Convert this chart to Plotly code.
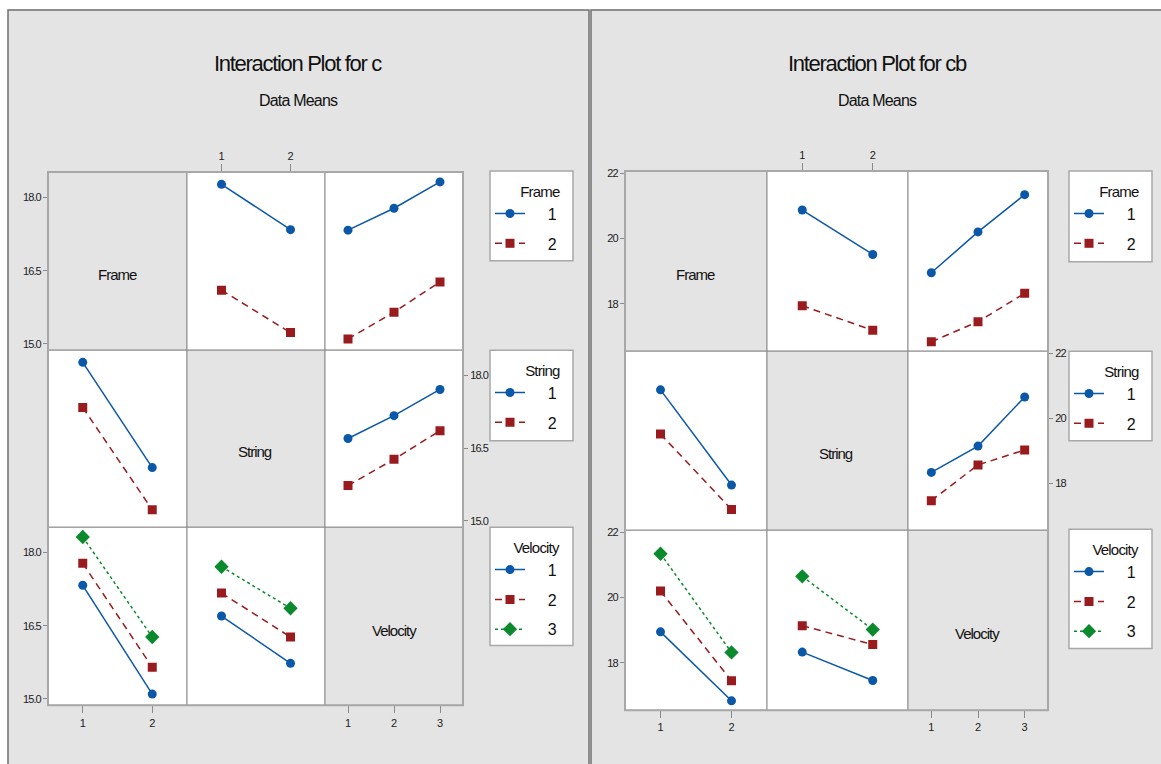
import plotly.graph_objects as go

W, H = 1161, 764

# ---------------- data ----------------
factor_names = ["Frame", "String", "Velocity"]
factor_levels = [[1, 2], [1, 2], [1, 2, 3]]

# Response c : two-way means
c_fs_frame1 = [18.27, 17.34]          # Frame 1 at String 1, 2
c_fs_frame2 = [16.10, 15.23]          # Frame 2 at String 1, 2
c_fv_frame1 = [17.33, 17.78, 18.32]   # Frame 1 at Velocity 1, 2, 3
c_fv_frame2 = [15.10, 15.65, 16.27]   # Frame 2 at Velocity 1, 2, 3
c_sv_string1 = [16.70, 17.17, 17.71]  # String 1 at Velocity 1, 2, 3
c_sv_string2 = [15.73, 16.27, 16.86]  # String 2 at Velocity 1, 2, 3

# Response cb : two-way means
cb_fs_frame1 = [20.87, 19.51]
cb_fs_frame2 = [17.94, 17.19]
cb_fv_frame1 = [18.95, 20.20, 21.34]
cb_fv_frame2 = [16.84, 17.45, 18.32]
cb_sv_string1 = [18.33, 19.14, 20.65]
cb_sv_string2 = [17.46, 18.56, 19.02]

c_yticks = [15.0, 16.5, 18.0]
c_yticktext = ["15.0", "16.5", "18.0"]
cb_yticks = [18, 20, 22]
cb_yticktext = ["18", "20", "22"]

titles = ["Interaction Plot for c", "Interaction Plot for cb"]
subtitle = "Data Means"

# ---------------- style ----------------
FONT = "Liberation Sans, Arial, sans-serif"
COLORS = ["#0B57A8", "#991B1E", "#0A8A2C"]
SYMBOLS = ["circle", "square", "diamond"]
DASHES = ["solid", "7px,5px", "3px,3px"]
MSIZE = [9, 9, 11]
PANEL_BG = "#E4E4E4"


def px(x):
    return x / W


def py(y):
    return 1 - y / H


def narrow(text, ls):
    return '<span style="letter-spacing:%spx">%s</span>' % (ls, text)


def transpose(rows):
    return [list(col) for col in zip(*rows)]


def tables(fs1, fs2, fv1, fv2, sv1, sv2):
    t = {}
    t[(0, 1)] = [fs1, fs2]
    t[(0, 2)] = [fv1, fv2]
    t[(1, 2)] = [sv1, sv2]
    t[(1, 0)] = transpose(t[(0, 1)])
    t[(2, 0)] = transpose(t[(0, 2)])
    t[(2, 1)] = transpose(t[(1, 2)])
    return t


panels = [
    dict(
        tab=tables(c_fs_frame1, c_fs_frame2, c_fv_frame1, c_fv_frame2, c_sv_string1, c_sv_string2),
        cols=[48, 187, 325, 463], rows=[169, 348, 526, 705],
        yrange=[14.87, 18.52], yticks=c_yticks, yticktext=c_yticktext,
        bg=[8, 589], center=298,
        legboxes=[(490, 573, 168, 258), (490, 573, 348, 439), (490, 573, 526, 645)],
        labelpos=[(117, 272), (255, 450), (394, 630)],
    ),
    dict(
        tab=tables(cb_fs_frame1, cb_fs_frame2, cb_fv_frame1, cb_fv_frame2, cb_sv_string1, cb_sv_string2),
        cols=[625, 767, 908, 1048], rows=[168, 349, 529, 710],
        yrange=[16.55, 22.06], yticks=cb_yticks, yticktext=cb_yticktext,
        bg=[591, 1161], center=877,
        legboxes=[(1069, 1152, 168, 259), (1069, 1152, 349, 439), (1069, 1152, 528, 648)],
        labelpos=[(695, 272), (836, 452), (977, 633)],
    ),
]

fig = go.Figure()
layout = dict(
    width=W, height=H,
    margin=dict(l=0, r=0, t=0, b=0),
    paper_bgcolor="white",
    plot_bgcolor="rgba(0,0,0,0)",
    showlegend=True,
    font=dict(family=FONT, color="#111"),
)
shapes = []
annotations = []

# panel backgrounds
for p, P in enumerate(panels):
    x0, x1 = P["bg"]
    shapes.append(dict(type="rect", xref="paper", yref="paper", layer="below",
                       x0=px(x0), x1=px(x1) + (0.01 if p == 1 else 0), y0=py(6), y1=-0.01,
                       fillcolor=PANEL_BG, line=dict(color="#6E6E6E", width=1.5)))

for p, P in enumerate(panels):
    cols, rows = P["cols"], P["rows"]
    # titles
    annotations.append(dict(text=narrow(titles[p], -1.3), x=px(P["center"]), y=py(60),
                            xref="paper", yref="paper", xanchor="center", yanchor="middle",
                            showarrow=False, font=dict(size=22, color="#111")))
    annotations.append(dict(text=narrow(subtitle, -0.8), x=px(P["center"]), y=py(97),
                            xref="paper", yref="paper", xanchor="center", yanchor="middle",
                            showarrow=False, font=dict(size=16, color="#111")))
    for r in range(3):
        lname = "legend" if (p == 0 and r == 0) else "legend%d" % (p * 3 + r + 1)
        legend_done = False
        for c in range(3):
            k = p * 9 + r * 3 + c + 1
            xs = "" if k == 1 else str(k)
            xa = "xaxis" + xs
            ya = "yaxis" + xs
            nx = len(factor_levels[c])
            show_x = (r == 0 and c == 1) or (r == 2 and c in (0, 2))
            show_y = (c == 0 and r in (0, 2)) or (r == 1 and c == 2)
            layout[xa] = dict(
                domain=[px(cols[c]), px(cols[c + 1])], anchor="y" + xs,
                range=[0.5, nx + 0.5], tickvals=factor_levels[c],
                ticktext=[str(v) for v in factor_levels[c]],
                showgrid=False, zeroline=False, showline=False,
                showticklabels=show_x, ticks="outside" if show_x else "",
                ticklen=7, tickcolor="#8A8A8A", tickwidth=1,
                side="top" if r == 0 else "bottom",
                tickfont=dict(size=11, color="#222"), fixedrange=True,
            )
            layout[ya] = dict(
                domain=[py(rows[r + 1]), py(rows[r])], anchor="x" + xs,
                range=P["yrange"], tickvals=P["yticks"],
                ticktext=[narrow(t, -0.9) for t in P["yticktext"]],
                showgrid=False, zeroline=False, showline=False,
                showticklabels=show_y, ticks="outside" if show_y else "",
                ticklen=4, tickcolor="#8A8A8A", tickwidth=1,
                side="right" if (r == 1 and c == 2) else "left",
                tickfont=dict(size=11, color="#222"), fixedrange=True,
            )
            # cell fill + border
            shapes.append(dict(type="rect", xref="paper", yref="paper", layer="below",
                               x0=px(cols[c]), x1=px(cols[c + 1]), y0=py(rows[r + 1]), y1=py(rows[r]),
                               fillcolor=PANEL_BG if r == c else "white",
                               line=dict(color="#8C8C8C", width=1)))
            if r == c:
                fig.add_trace(go.Scatter(x=[], y=[], xaxis="x" + xs, yaxis="y" + xs,
                                         showlegend=False, hoverinfo="skip"))
                lx, ly = P["labelpos"][r]
                annotations.append(dict(text=narrow(factor_names[r], -1.0), x=px(lx), y=py(ly),
                                        xref="paper", yref="paper", xanchor="center",
                                        yanchor="middle", showarrow=False,
                                        font=dict(size=15, color="#111")))
                continue
            series = P["tab"][(r, c)]
            for li, vals in enumerate(series):
                lev = factor_levels[r][li]
                fig.add_trace(go.Scatter(
                    x=factor_levels[c], y=vals, xaxis="x" + xs, yaxis="y" + xs,
                    mode="lines+markers",
                    line=dict(color=COLORS[li], width=1.5, dash=DASHES[li]),
                    marker=dict(color=COLORS[li], symbol=SYMBOLS[li], size=MSIZE[li]),
                    name="\u00a0" * 4 + str(lev),
                    legend=lname, legendgroup="p%dr%dl%d" % (p, r, li),
                    showlegend=not legend_done,
                ))
            legend_done = True
        bx0, bx1, by0, by1 = P["legboxes"][r]
        shapes.append(dict(type="rect", xref="paper", yref="paper", layer="above",
                           x0=px(bx0), x1=px(bx1), y0=py(by1), y1=py(by0),
                           fillcolor="white", line=dict(color="#A8A8A8", width=1.5)))
        layout[lname] = dict(
            x=px(bx0), y=py(by0 + 6), xanchor="left", yanchor="top",
            bgcolor="rgba(0,0,0,0)", borderwidth=0,
            font=dict(size=16, color="#111", family=FONT),
            title=dict(text=narrow(factor_names[r], -0.8), side="top right",
                       font=dict(size=15, color="#111")),
            itemwidth=30, tracegroupgap=6, itemclick=False, itemdoubleclick=False,
        )
    # outer grid border
    shapes.append(dict(type="rect", xref="paper", yref="paper", layer="above",
                       x0=px(cols[0]), x1=px(cols[3]), y0=py(rows[3]), y1=py(rows[0]),
                       line=dict(color="#A8A8A8", width=2)))

layout["shapes"] = shapes
layout["annotations"] = annotations
fig.update_layout(**layout)
fig.write_html("out.html", config={"displayModeBar": False},
               post_script="document.body.style.margin='0px';")
